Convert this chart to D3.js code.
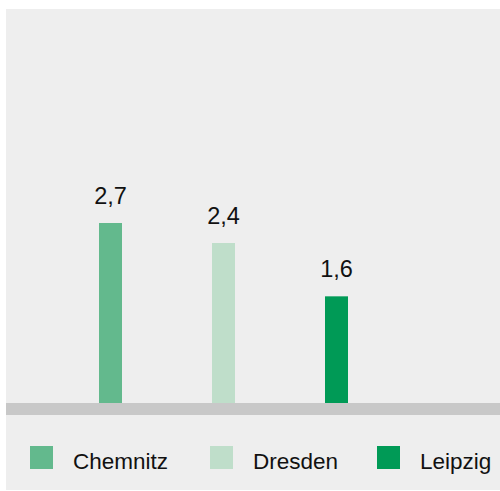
<!DOCTYPE html>
<html>
<head>
<meta charset="utf-8">
<script src="https://cdn.jsdelivr.net/npm/d3@7/dist/d3.min.js"></script>
<style>
  html, body { margin: 0; padding: 0; background: #ffffff; }
  svg { display: block; font-family: "Liberation Sans", Arial, sans-serif; }
</style>
</head>
<body>
<svg id="chart" width="500" height="491"></svg>
<script>
// Cities and their values
const cities = ["Chemnitz", "Dresden", "Leipzig"];
const values = [2.7, 2.4, 1.6];
const labels = ["2,7", "2,4", "1,6"];
const colors = ["#63b98d", "#bfdeca", "#009a56"];

const svg = d3.select("#chart");

// Panel
svg.append("rect")
  .attr("x", 6).attr("y", 9)
  .attr("width", 494).attr("height", 481)
  .attr("fill", "#eeeeee");

const baseY = 403;
const y = d3.scaleLinear().domain([0, 6]).range([baseY, 3]);
const x = d3.scalePoint().domain(cities).range([110.5, 336.5]);
const barW = 23;

const data = cities.map((c, i) => ({ city: c, value: values[i], label: labels[i], color: colors[i] }));

// Bars
svg.selectAll("rect.bar")
  .data(data)
  .join("rect")
  .attr("class", "bar")
  .attr("x", d => x(d.city) - barW / 2)
  .attr("y", d => y(d.value))
  .attr("width", barW)
  .attr("height", d => y(0) - y(d.value))
  .attr("fill", d => d.color);

// Value labels
svg.selectAll("text.val")
  .data(data)
  .join("text")
  .attr("class", "val")
  .attr("x", d => x(d.city))
  .attr("y", d => y(d.value) - 19.5)
  .attr("text-anchor", "middle")
  .attr("font-size", 23.5)
  .attr("fill", "#111111")
  .text(d => d.label);

// Baseline band
svg.append("rect")
  .attr("x", 6).attr("y", baseY)
  .attr("width", 494).attr("height", 12)
  .attr("fill", "#c8c8c8");

// Legend
const legendX = [30, 210, 377];
const lg = svg.selectAll("g.legend")
  .data(data)
  .join("g")
  .attr("class", "legend")
  .attr("transform", (d, i) => `translate(${legendX[i]},446)`);

lg.append("rect")
  .attr("width", 23).attr("height", 23)
  .attr("fill", d => d.color);

lg.append("text")
  .attr("x", 43)
  .attr("y", 23)
  .attr("font-size", 22.5)
  .attr("fill", "#111111")
  .text(d => d.city);
</script>
</body>
</html>
